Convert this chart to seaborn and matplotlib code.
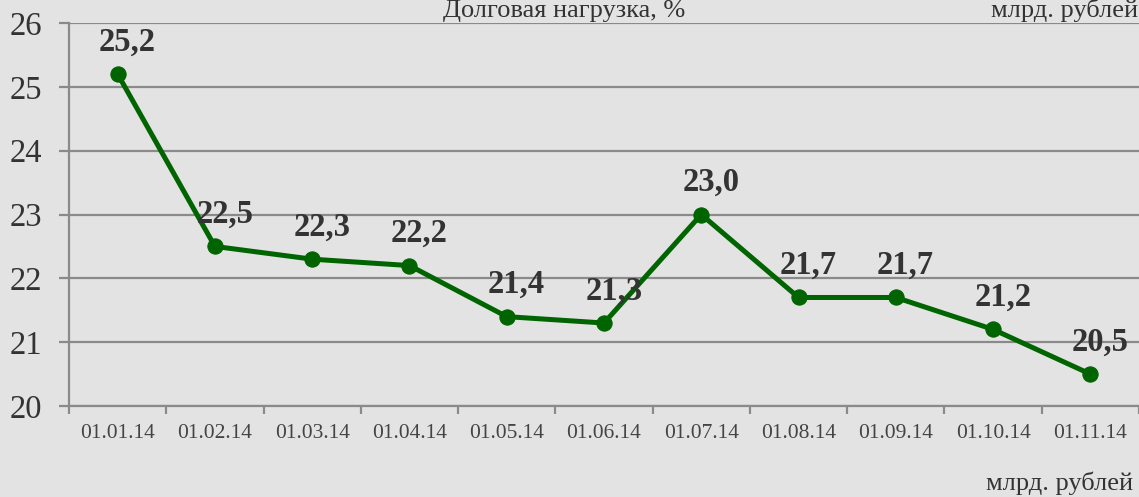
import numpy as np
import pandas as pd
import seaborn as sns
import matplotlib.pyplot as plt
from matplotlib.ticker import FixedLocator, NullFormatter

# data
dates = ["01.01.14", "01.02.14", "01.03.14", "01.04.14", "01.05.14", "01.06.14",
         "01.07.14", "01.08.14", "01.09.14", "01.10.14", "01.11.14"]
debt_load = [25.2, 22.5, 22.3, 22.2, 21.4, 21.3, 23.0, 21.7, 21.7, 21.2, 20.5]
y_ticks = [20, 21, 22, 23, 24, 25, 26]

df = pd.DataFrame({"pos": np.arange(len(dates)), "value": debt_load})

sns.set_style("white")
plt.rcParams["font.family"] = ["Liberation Serif", "DejaVu Serif"]

bg = "#e3e3e3"
grid_c = "#8a8a8a"
fig = plt.figure(figsize=(11.39, 4.97), dpi=100, facecolor=bg)
ax = fig.add_axes([69 / 1139, 1 - 406 / 497, 1 - 69 / 1139, (406 - 23) / 497])
ax.set_facecolor(bg)

sns.lineplot(data=df, x="pos", y="value", ax=ax, color="#006400", linewidth=3.6,
             marker="o", markersize=11, markeredgecolor="#006400", zorder=3)

# value labels above the points
for x, v in zip(df["pos"], df["value"]):
    ax.annotate(f"{v:.1f}".replace(".", ","), (x, v), xytext=(7, 23),
                textcoords="offset points", ha="center", va="center",
                fontsize=23.5, fontweight="bold", color="#333333", zorder=4)

ax.set_xlim(-0.5, len(dates) - 0.5)
ax.set_ylim(20, 26)
ax.set_yticks(y_ticks)
ax.set_yticklabels([str(t) for t in y_ticks], fontsize=23.5, color="#333333")
ax.yaxis.grid(True, color=grid_c, linewidth=1.6)
ax.set_axisbelow(True)

# category labels in the middle, tick marks between categories
ax.xaxis.set_major_locator(FixedLocator(np.arange(len(dates) + 1) - 0.5))
ax.xaxis.set_major_formatter(NullFormatter())
ax.xaxis.set_minor_locator(FixedLocator(np.arange(len(dates))))
ax.set_xticklabels(dates, minor=True, fontsize=15.5, color="#444444")
ax.tick_params(left=True, bottom=True)
ax.tick_params(axis="x", which="major", length=6, width=1.6, color=grid_c, direction="out")
ax.tick_params(axis="x", which="minor", bottom=False, length=0, pad=13)
ax.tick_params(axis="y", length=7, width=1.6, color=grid_c, direction="out", pad=12)

for s in ["top", "right"]:
    ax.spines[s].set_visible(False)
for s in ["left", "bottom"]:
    ax.spines[s].set_color(grid_c)
    ax.spines[s].set_linewidth(1.6)

ax.set_xlabel("")
ax.set_ylabel("")

fig.text(564 / 1139, 1 - 17 / 497, "Долговая нагрузка, %", ha="center", va="baseline",
         fontsize=19, color="#333333")
fig.text(1138 / 1139, 1 - 17 / 497, "млрд. рублей", ha="right", va="baseline",
         fontsize=19, color="#333333")
fig.text(1133 / 1139, 1 - 490 / 497, "млрд. рублей", ha="right", va="baseline",
         fontsize=19, color="#333333")

fig.savefig("out.png", dpi=100, facecolor=bg)
